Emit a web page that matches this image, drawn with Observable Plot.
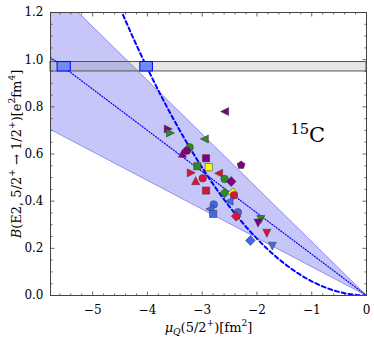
<!DOCTYPE html>
<html><head><meta charset="utf-8">
<script src="https://cdn.jsdelivr.net/npm/d3@7"></script>
<script src="https://cdn.jsdelivr.net/npm/@observablehq/plot@0.6"></script>
<style>body{margin:0;background:#fff} svg{display:block}</style>
</head><body><div id="chart"></div>
<script>
// ---- data ----
const xDomain = [-5.77, 0];
const yDomain = [0, 1.2];
const xTicks = [-5, -4, -3, -2, -1, 0];
const yTicks = [0, 0.2, 0.4, 0.6, 0.8, 1.0, 1.2];

// calculations (model points)
const muQ = [-2.59,-3.62,-3.58,-2.96,-3.23,-3.28,-3.36,-2.29,-2.93,-3.09,-2.88,-3.20,-2.70,-3.12,-2.99,-2.59,-2.47,-2.93,-2.59,-2.44,-2.42,-2.51,-2.79,-2.86,-2.80,-2.35,-2.38,-1.93,-1.98,-1.82,-2.12,-1.72];
const bE2 = [0.780,0.706,0.689,0.664,0.628,0.614,0.603,0.553,0.582,0.548,0.544,0.520,0.518,0.487,0.497,0.494,0.483,0.445,0.435,0.435,0.425,0.400,0.386,0.367,0.346,0.353,0.336,0.322,0.307,0.264,0.233,0.209];
const pointColor = ["purple","purple","green","green","green","purple","purple","purple","purple","green","yellow","crimson","crimson","crimson","crimson","green","purple","crimson","green","yellow","crimson","blue","blue","blue","blue","blue","crimson","green","purple","crimson","blue","blue"];
const pointShape = ["left","right","right","left","circle","circle","up","pentagon","square","square","square","right","left","up","circle","circle","diamond","square","diamond","diamond","circle","left","circle","left","square","circle","diamond","down","down","down","diamond","down"];

// linear fits B = -k * muQ (band low / high, centre) and quadratic B = c * muQ^2
const bandSlopes = [0.122, 0.228];
const centreSlope = 0.175;
const quadCoef = 0.0602;
// experimental B(E2) band and intersection boxes
const bandB = [0.95, 0.99];
const boxMuLo = [-5.64, -4.13];
const boxMuHi = [-5.40, -3.90];
const annotation = [{x: -1.39, y: 0.649, label: "15C"}];

// ---- colours / symbols ----
const palette = {purple: "#800080", green: "#2e8b22", crimson: "#dc143c", blue: "#4169e1", yellow: "#ffff00"};
function poly(pts) {
  return {draw(ctx, size) {
    const h = Math.sqrt(size / Math.PI);
    pts.forEach(([px, py], i) => i ? ctx.lineTo(px * h, py * h) : ctx.moveTo(px * h, py * h));
    ctx.closePath();
  }};
}
const symbols = {
  circle: {draw(ctx, size) { const h = Math.sqrt(size / Math.PI) * 0.95; ctx.moveTo(h, 0); ctx.arc(0, 0, h, 0, 2 * Math.PI); }},
  square: poly([[-0.9,-0.9],[0.9,-0.9],[0.9,0.9],[-0.9,0.9]]),
  diamond: poly([[0,-1.25],[1.2,0],[0,1.25],[-1.2,0]]),
  up: poly([[0,-1],[1,1],[-1,1]]),
  down: poly([[0,1],[1,-1],[-1,-1]]),
  left: poly([[-1,0],[1,-1],[1,1]]),
  right: poly([[1,0],[-1,-1],[-1,1]]),
  pentagon: poly(d3.range(5).map(i => { const a = -Math.PI / 2 + i * 2 * Math.PI / 5; return [Math.cos(a) * 1.05, Math.sin(a) * 1.05]; }))
};
// inward tick glyphs (dx, dy direction, length)
const tickSym = (dx, dy, L) => ({draw(ctx) { ctx.moveTo(0, 0); ctx.lineTo(dx * L, dy * L); }});

const points = muQ.map((m, i) => ({mu: m, b: bE2[i], color: pointColor[i], shape: pointShape[i]}));
const lineX = [xDomain[0], 0];
const quadX = d3.range(0, 161).map(i => xDomain[0] * i / 160);
const wedge = lineX.map(x => ({x, lo: -bandSlopes[0] * x, hi: -bandSlopes[1] * x}));
const boxes = boxMuLo.map((lo, i) => ({x1: lo, x2: boxMuHi[i], y1: bandB[0], y2: bandB[1]}));
const band = [{x1: xDomain[0], x2: xDomain[1], y1: bandB[0], y2: bandB[1]}];

const fmtX = d3.format("d");
const fmtY = d3.format(".1f");
const tickCol = "#444";
const xMinor = d3.range(-5.6, 0.001, 0.2).filter(v => !xTicks.some(t => Math.abs(t - v) < 1e-6));
const yMinor = d3.range(0, 1.2001, 0.05).filter(v => !yTicks.some(t => Math.abs(t - v) < 1e-6));

function tickMarks(vals, L) {
  const o = {fill: "none", stroke: tickCol, strokeWidth: 0.8};
  return [
    Plot.dot(vals, {...o, x: d => d, y: () => yDomain[0], symbol: tickSym(0, -1, L)}),
    Plot.dot(vals, {...o, x: d => d, y: () => yDomain[1], symbol: tickSym(0, 1, L)})
  ];
}
function tickMarksY(vals, L) {
  const o = {fill: "none", stroke: tickCol, strokeWidth: 0.8};
  return [
    Plot.dot(vals, {...o, y: d => d, x: () => xDomain[0], symbol: tickSym(1, 0, L)}),
    Plot.dot(vals, {...o, y: d => d, x: () => xDomain[1], symbol: tickSym(-1, 0, L)})
  ];
}

const marks = [
  Plot.areaY(wedge, {x: "x", y1: "lo", y2: "hi", fill: "#c6c6f8", clip: true}),
  ...bandSlopes.map(k => Plot.line(lineX, {x: d => d, y: d => -k * d, stroke: "#8c8cf0", strokeWidth: 1, clip: true})),
  Plot.rect(band, {x1: "x1", x2: "x2", y1: "y1", y2: "y2", fill: "gray", fillOpacity: 0.2, stroke: "#555", strokeWidth: 1}),
  Plot.line(lineX, {x: d => d, y: d => -centreSlope * d, stroke: "#0000ff", strokeWidth: 1.2, strokeDasharray: "1,1.8", clip: true}),
  Plot.line(quadX, {x: d => d, y: d => quadCoef * d * d, stroke: "#0000ff", strokeWidth: 2, strokeDasharray: "4,3", clip: true}),
  Plot.rect(boxes, {x1: "x1", x2: "x2", y1: "y1", y2: "y2", fill: "#6e8cf5", stroke: "#0000ff", strokeWidth: 1}),
  ...points.map(p => Plot.dot([p], {x: "mu", y: "b", r: 4, symbol: symbols[p.shape], fill: palette[p.color], stroke: "#333", strokeWidth: 0.5})),
  ...tickMarks(xTicks, 4), ...tickMarks(xMinor, 2),
  ...tickMarksY(yTicks, 4), ...tickMarksY(yMinor, 2),
  Plot.frame({stroke: tickCol}),
  Plot.axisX(xTicks, {anchor: "bottom", tickSize: 0, tickPadding: 10, tickFormat: fmtX, fontSize: 12, label: null}),
  Plot.axisY(yTicks, {anchor: "left", tickSize: 0, tickPadding: 7, tickFormat: fmtY, fontSize: 12, label: null}),
  Plot.text(["YLABEL"], {text: d => d, frameAnchor: "left", rotate: -90, dx: -30, textAnchor: "middle", lineAnchor: "bottom", fontSize: 13}),
  Plot.text(["XLABEL"], {text: d => d, frameAnchor: "bottom", dy: 36, textAnchor: "middle", lineAnchor: "bottom", fontSize: 13}),
  Plot.text(annotation, {x: "x", y: "y", text: "label", textAnchor: "start", lineAnchor: "bottom", fontSize: 21})
];

const svg = Plot.plot({
  width: 374, height: 342,
  marginLeft: 50, marginRight: 8, marginTop: 12, marginBottom: 47,
  x: {domain: xDomain, label: null},
  y: {domain: yDomain, label: null},
  style: {fontFamily: "DejaVu Serif", fontSize: "12px", color: "black", background: "white"},
  marks
});

function rich(segs, size) {
  let cur = 0, out = "";
  for (const s of segs) {
    const off = s.sup ? -size * 0.4 : s.sub ? size * 0.25 : 0;
    const fs = (s.sup || s.sub) ? size * 0.7 : size;
    out += `<tspan dy="${off - cur}" font-size="${fs}"${s.it ? ' font-style="italic"' : ''}>${s.t}</tspan>`;
    cur = off;
  }
  return out;
}
const richText = {
  YLABEL: rich([{t: "B", it: true}, {t: "(E2,&#160;5/2"}, {t: "+", sup: true}, {t: "&#160;→&#160;1/2"}, {t: "+", sup: true}, {t: ")[e"}, {t: "2", sup: true}, {t: "fm"}, {t: "4", sup: true}, {t: "]"}], 13),
  XLABEL: rich([{t: "μ", it: true}, {t: "Q", it: true, sub: true}, {t: "(5/2"}, {t: "+", sup: true}, {t: ")[fm"}, {t: "2", sup: true}, {t: "]"}], 13),
  "15C": rich([{t: "15", sup: true}, {t: "C"}], 21)
};
svg.querySelectorAll("text").forEach(t => {
  const k = t.textContent;
  if (richText[k]) t.innerHTML = richText[k];
});
document.getElementById("chart").append(svg);
</script>
</body></html>
